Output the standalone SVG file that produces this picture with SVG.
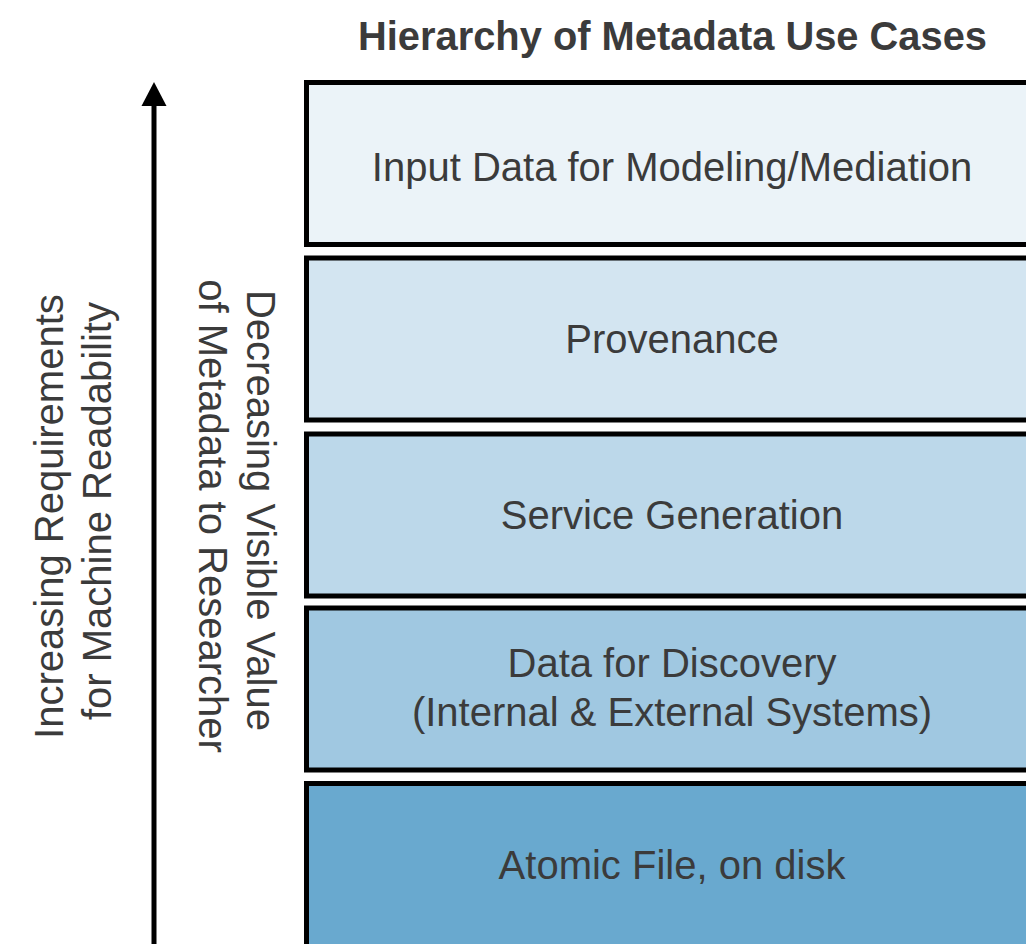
<svg xmlns="http://www.w3.org/2000/svg" width="1026" height="944" viewBox="0 0 1026 944">
  <style>
    .tier { stroke: #000; stroke-width: 5; }
    .lbl { font-family: "Liberation Sans", Arial, sans-serif; font-size: 40px; fill: #3b3b3b; text-anchor: middle; }
    .title { font-family: "Liberation Sans", Arial, sans-serif; font-size: 40px; font-weight: bold; fill: #3b3b3b; text-anchor: middle; }
  </style>
  <rect width="1026" height="944" fill="#ffffff"/>

  <text class="title" x="672.5" y="50" textLength="629" lengthAdjust="spacingAndGlyphs">Hierarchy of Metadata Use Cases</text>

  <!-- vertical axis arrow -->
  <g id="connectors">
    <line x1="154" y1="104" x2="154" y2="950" stroke="#000" stroke-width="5"/>
    <polygon points="154,82 141.5,106 166.5,106" fill="#000"/>
  </g>

  <!-- axis captions -->
  <g id="axis-left">
    <text class="lbl" transform="translate(63,511) rotate(-90)">
      <tspan x="0" y="0">Increasing Requirements</tspan>
      <tspan x="0" y="48">for Machine Readability</tspan>
    </text>
  </g>
  <g id="axis-right">
    <text class="lbl" transform="translate(247,516) rotate(90)">
      <tspan x="0" y="0">Decreasing Visible Value</tspan>
      <tspan x="0" y="48">of Metadata to Researcher</tspan>
    </text>
  </g>

  <!-- tiers, top to bottom -->
  <g id="tier-input">
    <rect class="tier" x="306.5" y="82.5" width="740" height="162" fill="#ebf3f8"/>
    <text class="lbl" x="672" y="181">Input Data for Modeling/Mediation</text>
  </g>
  <g id="tier-provenance">
    <rect class="tier" x="306.5" y="258" width="740" height="162" fill="#d3e5f1"/>
    <text class="lbl" x="672" y="353">Provenance</text>
  </g>
  <g id="tier-service">
    <rect class="tier" x="306.5" y="434" width="740" height="162" fill="#bcd8ea"/>
    <text class="lbl" x="672" y="529">Service Generation</text>
  </g>
  <g id="tier-discovery">
    <rect class="tier" x="306.5" y="608" width="740" height="162" fill="#a0c8e1"/>
    <text class="lbl" x="672" y="677">Data for Discovery</text>
    <text class="lbl" x="672" y="726">(Internal &amp; External Systems)</text>
  </g>
  <g id="tier-atomic">
    <rect class="tier" x="306.5" y="783.5" width="740" height="200" fill="#69a9cf"/>
    <text class="lbl" x="672" y="879">Atomic File, on disk</text>
  </g>
</svg>
